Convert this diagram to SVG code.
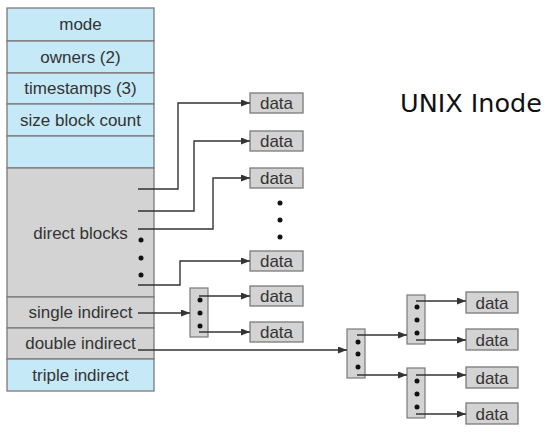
<svg xmlns="http://www.w3.org/2000/svg" width="550" height="440" viewBox="0 0 550 440">
<style>
.blue{fill:#c6e9f8;stroke:#7a7a7a;stroke-width:1.3}
.gray{fill:#d3d3d3;stroke:#7a7a7a;stroke-width:1.3}
.lbl{font-family:"Liberation Sans",Arial,sans-serif;font-size:17px;fill:#333;text-anchor:middle}
.ptr{fill:#d3d3d3;stroke:#7a7a7a;stroke-width:1.2}
.conn{fill:none;stroke:#333;stroke-width:1.4}
.dot{fill:#111}
</style>
<defs>
<marker id="ah" markerUnits="userSpaceOnUse" markerWidth="9" markerHeight="7" refX="9" refY="3.5" orient="auto">
<path d="M0,0 L9,3.5 L0,7 z" fill="#333"/>
</marker>
</defs>
<rect width="550" height="440" fill="#fff"/>
<g id="inode">
<g id="mode"><rect class="blue" x="7" y="8" width="147" height="33"/><text class="lbl" x="80.5" y="30">mode</text></g>
<g id="owners"><rect class="blue" x="7" y="41" width="147" height="32"/><text class="lbl" x="80.5" y="63">owners (2)</text></g>
<g id="timestamps"><rect class="blue" x="7" y="73" width="147" height="31"/><text class="lbl" x="80.5" y="94">timestamps (3)</text></g>
<g id="size"><rect class="blue" x="7" y="104" width="147" height="32"/><text class="lbl" x="80.5" y="126">size block count</text></g>
<g id="empty"><rect class="blue" x="7" y="136" width="147" height="32"/></g>
<g id="direct"><rect class="gray" x="7" y="168" width="147" height="129"/><text class="lbl" x="80.5" y="239">direct blocks</text>
<circle class="dot" cx="141" cy="240" r="2.5"/><circle class="dot" cx="141" cy="258" r="2.5"/><circle class="dot" cx="141" cy="275" r="2.5"/></g>
<g id="single"><rect class="gray" x="7" y="297" width="147" height="31"/><text class="lbl" x="80.5" y="318">single indirect</text></g>
<g id="double"><rect class="gray" x="7" y="328" width="147" height="31"/><text class="lbl" x="80.5" y="349">double indirect</text></g>
<g id="triple"><rect class="blue" x="7" y="359" width="147" height="32"/><text class="lbl" x="80.5" y="381">triple indirect</text></g>
</g>
<g id="data-direct">
<g id="d1"><rect class="gray" x="250" y="93" width="53" height="20"/><text class="lbl" x="276.5" y="109">data</text></g>
<g id="d2"><rect class="gray" x="250" y="131" width="53" height="20"/><text class="lbl" x="276.5" y="147">data</text></g>
<g id="d3"><rect class="gray" x="250" y="168" width="53" height="20"/><text class="lbl" x="276.5" y="184">data</text></g>
<circle class="dot" cx="280" cy="203" r="2.5"/><circle class="dot" cx="280" cy="220" r="2.5"/><circle class="dot" cx="280" cy="237" r="2.5"/>
<g id="d4"><rect class="gray" x="250" y="251" width="53" height="20"/><text class="lbl" x="276.5" y="267">data</text></g>
<g id="d5"><rect class="gray" x="250" y="286" width="53" height="20"/><text class="lbl" x="276.5" y="302">data</text></g>
<g id="d6"><rect class="gray" x="250" y="322" width="53" height="20"/><text class="lbl" x="276.5" y="338">data</text></g>
</g>
<g id="ptr-single"><rect class="ptr" x="190" y="288" width="18" height="49"/>
<circle class="dot" cx="200" cy="300" r="2.5"/><circle class="dot" cx="200" cy="313" r="2.5"/><circle class="dot" cx="200" cy="326" r="2.5"/></g>
<g id="ptr-double"><rect class="ptr" x="347" y="329" width="18" height="49"/>
<circle class="dot" cx="358" cy="342" r="2.5"/><circle class="dot" cx="358" cy="354" r="2.5"/><circle class="dot" cx="358" cy="367" r="2.5"/></g>
<g id="ptr-d1"><rect class="ptr" x="407" y="295" width="18" height="49"/>
<circle class="dot" cx="417" cy="307" r="2.5"/><circle class="dot" cx="417" cy="320" r="2.5"/><circle class="dot" cx="417" cy="333" r="2.5"/></g>
<g id="ptr-d2"><rect class="ptr" x="407" y="368" width="18" height="50"/>
<circle class="dot" cx="417" cy="381" r="2.5"/><circle class="dot" cx="417" cy="394" r="2.5"/><circle class="dot" cx="417" cy="407" r="2.5"/></g>
<g id="data-double">
<g id="e1"><rect class="gray" x="466" y="292" width="52" height="21"/><text class="lbl" x="492" y="308.5">data</text></g>
<g id="e2"><rect class="gray" x="466" y="329" width="52" height="21"/><text class="lbl" x="492" y="345.5">data</text></g>
<g id="e3"><rect class="gray" x="466" y="367" width="52" height="21"/><text class="lbl" x="492" y="383.5">data</text></g>
<g id="e4"><rect class="gray" x="466" y="403" width="52" height="21"/><text class="lbl" x="492" y="419.5">data</text></g>
</g>
<g id="connectors">
<path class="conn" marker-end="url(#ah)" d="M138,189 H178 V103 H250"/>
<path class="conn" marker-end="url(#ah)" d="M138,211 H194 V141 H250"/>
<path class="conn" marker-end="url(#ah)" d="M138,229 H213 V178 H250"/>
<path class="conn" marker-end="url(#ah)" d="M138,285 H180 V261 H250"/>
<path class="conn" marker-end="url(#ah)" d="M138,313 H190"/>
<path class="conn" marker-end="url(#ah)" d="M199,296 H250"/>
<path class="conn" marker-end="url(#ah)" d="M199,332 H250"/>
<path class="conn" marker-end="url(#ah)" d="M138,350 H347"/>
<path class="conn" marker-end="url(#ah)" d="M357,335 H407"/>
<path class="conn" marker-end="url(#ah)" d="M357,375 H407"/>
<path class="conn" marker-end="url(#ah)" d="M416,301 H466"/>
<path class="conn" marker-end="url(#ah)" d="M416,340 H466"/>
<path class="conn" marker-end="url(#ah)" d="M416,375 H466"/>
<path class="conn" marker-end="url(#ah)" d="M416,414 H466"/>
</g>
<text id="title" x="400" y="112" font-family="'DejaVu Sans',Verdana,sans-serif" font-size="25.5" fill="#111" textLength="142">UNIX Inode</text>
</svg>
